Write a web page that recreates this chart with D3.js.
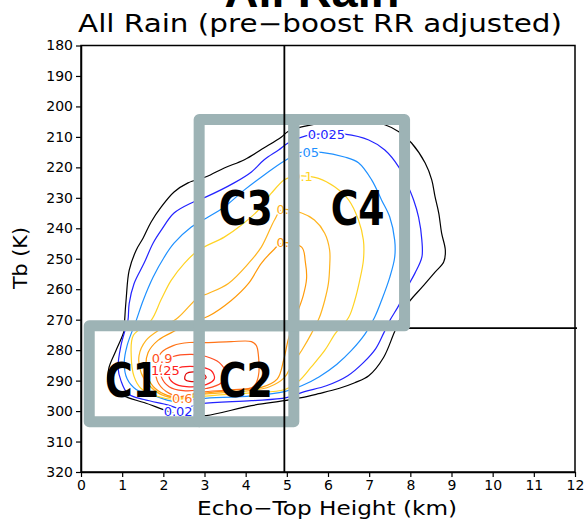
<!DOCTYPE html>
<html>
<head>
<meta charset="utf-8">
<script src="https://cdn.jsdelivr.net/npm/d3@7"></script>
<style>
  body { margin: 0; background: #fff; }
  svg { display: block; }
</style>
</head>
<body>
<svg width="585" height="522"></svg>
<script>
// axis ticks
var xTickValues = [0, 1, 2, 3, 4, 5, 6, 7, 8, 9, 10, 11, 12];
var yTickValues = [180, 190, 200, 210, 220, 230, 240, 250, 260, 270, 280, 290, 300, 310, 320];

// contour levels and one ring of [echo-top km, Tb K] per level
var levels = [0.01, 0.025, 0.05, 0.1, 0.2, 0.3, 0.6, 0.9, 1.25, 1.5];
var levelColors = ["#000000", "#2323ff", "#1e90ff", "#ffd324", "#ffb41e", "#ff9a0a", "#ff7419", "#ff4f23", "#ff2020", "#e00000"];

var ring001 = [[5.03,208.2],[5.36,206.7],[6.09,205.0],[6.82,204.7],[7.38,206.0],[7.72,208.3],[8.03,212.0],[8.36,218.6],[8.52,224.1],[8.60,229.6],[8.69,235.0],[8.76,241.6],[8.85,247.2],[8.81,251.1],[8.60,254.4],[8.28,259.4],[7.91,265.3],[7.62,273.9],[7.35,282.4],[6.99,288.4],[6.65,290.7],[6.26,292.6],[5.77,294.3],[5.36,295.6],[4.94,296.6],[4.14,298.2],[3.04,301.5],[2.50,301.8],[2.02,299.6],[1.53,297.2],[1.14,295.6],[0.80,293.3],[0.66,290.0],[0.68,285.7],[0.85,280.1],[1.05,273.5],[1.06,270.3],[1.10,262.7],[1.17,253.8],[1.34,247.2],[1.51,243.2],[1.70,238.0],[1.95,233.0],[2.26,228.1],[2.60,225.1],[3.04,223.1],[3.48,220.2],[3.97,217.5],[4.45,213.6],[4.87,210.0]];
var ring0025 = [[5.03,212.0],[5.48,209.6],[5.96,209.0],[6.40,209.1],[6.99,211.0],[7.38,214.3],[7.72,219.9],[7.91,225.1],[8.08,230.7],[8.20,236.3],[8.28,243.9],[8.28,249.5],[8.11,254.8],[7.91,259.7],[7.72,265.3],[7.50,270.3],[7.35,274.5],[7.16,279.5],[6.86,284.1],[6.48,288.4],[5.96,291.7],[5.43,293.6],[4.99,295.6],[4.14,296.6],[2.92,297.6],[2.43,299.3],[2.12,298.0],[1.53,296.2],[1.14,294.3],[0.97,290.0],[0.90,285.7],[0.97,278.5],[1.07,273.5],[1.14,270.3],[1.17,264.7],[1.29,258.1],[1.53,251.5],[1.75,244.9],[1.95,240.6],[2.26,235.0],[2.68,231.7],[3.04,229.7],[3.72,225.1],[4.14,221.5],[4.45,217.5],[4.80,214.3]];
var ring005 = [[5.06,216.9],[5.28,215.2],[5.84,215.1],[6.40,216.6],[6.74,218.5],[7.06,224.1],[7.30,230.7],[7.50,236.3],[7.62,243.9],[7.62,249.5],[7.50,256.1],[7.30,263.7],[7.13,269.3],[6.91,274.5],[6.57,280.1],[6.21,284.7],[5.79,288.7],[5.36,291.7],[4.94,293.6],[4.14,295.0],[2.92,295.9],[2.24,296.8],[1.83,295.2],[1.34,292.9],[1.12,289.4],[1.05,284.1],[1.12,278.5],[1.34,270.3],[1.51,263.7],[1.75,256.1],[2.02,249.5],[2.26,244.9],[2.68,239.6],[3.04,236.7],[3.48,233.0],[3.97,227.4],[4.45,222.5],[4.87,218.5]];
var ring01 = [[5.11,223.2],[5.36,222.8],[5.77,223.6],[6.16,226.4],[6.50,230.7],[6.74,237.3],[6.86,243.9],[6.86,250.5],[6.77,257.1],[6.65,263.7],[6.50,269.3],[6.18,274.5],[5.92,280.1],[5.60,285.4],[5.28,290.3],[4.94,293.0],[4.14,294.0],[2.92,295.2],[2.26,296.2],[1.87,295.2],[1.46,292.6],[1.29,288.7],[1.22,281.8],[1.27,275.2],[1.70,270.3],[1.95,263.3],[2.19,257.1],[2.51,251.5],[2.85,247.2],[3.48,242.9],[3.89,239.0],[4.31,234.0],[4.63,228.4],[4.94,224.1]];
var ring02 = [[4.87,234.0],[5.36,235.0],[5.67,237.3],[5.92,241.6],[6.04,247.2],[6.04,252.8],[6.01,258.1],[5.92,263.7],[5.79,269.3],[5.60,274.5],[5.36,280.1],[5.11,285.1],[4.94,289.0],[4.58,292.0],[4.14,293.2],[3.04,294.4],[2.39,295.8],[1.95,294.6],[1.66,291.6],[1.46,287.4],[1.41,281.8],[1.58,276.8],[1.95,272.9],[2.36,269.3],[2.85,262.7],[3.09,261.4],[3.58,258.1],[4.07,251.5],[4.38,246.2],[4.70,237.3]];
var ring03 = [[4.87,244.9],[5.36,246.2],[5.45,251.1],[5.48,256.4],[5.40,262.0],[5.23,268.6],[5.04,276.2],[4.92,283.4],[4.77,289.4],[4.38,292.2],[3.65,293.2],[2.92,294.2],[2.31,295.5],[1.95,294.0],[1.70,291.0],[1.58,286.1],[1.63,280.8],[1.87,276.8],[2.31,273.5],[2.80,270.3],[3.09,268.9],[3.65,263.7],[4.07,258.1],[4.38,251.5],[4.67,247.2]];
var ring06 = [[3.04,277.5],[3.65,277.2],[4.14,277.2],[4.26,278.5],[4.31,281.8],[4.31,288.4],[4.19,292.0],[3.65,293.0],[2.92,293.8],[2.39,295.2],[2.07,293.6],[1.85,290.0],[1.83,284.7],[1.95,280.8],[2.24,278.5],[2.63,277.5]];
var ring09 = [[2.24,282.1],[2.68,281.4],[3.04,282.1],[3.36,284.1],[3.51,287.4],[3.41,290.7],[3.04,292.6],[2.48,293.3],[2.14,292.0],[1.95,288.7],[1.95,284.7]];
var ring125 = [[2.31,286.1],[2.80,285.4],[3.16,286.7],[3.24,289.4],[3.04,291.3],[2.56,292.0],[2.24,290.7],[2.14,288.4]];
var ring15 = [[2.56,287.7],[2.92,287.4],[3.04,289.0],[2.80,290.3],[2.53,289.7]];
var rings = [ring001, ring0025, ring005, ring01, ring02, ring03, ring06, ring09, ring125, ring15];

// contour labels: text and where they sit (km, K)
var labelText = ["0.025", "0.05", "0.1", "0.2", "0.3", "0.9", "1.25", "0.6", "0.025"];
var labelLevel = [0.025, 0.05, 0.1, 0.2, 0.3, 0.9, 1.25, 0.6, 0.025];
var labelX = [5.96, 5.43, 5.38, 5.00, 5.00, 1.97, 2.05, 2.46, 2.46];
var labelY = [209.0, 215.2, 222.8, 233.9, 244.6, 282.6, 286.6, 295.9, 300.2];

// class boxes
var boxNames = ["C1", "C2", "C3", "C4"];
var boxX0 = [0.2, 2.87, 2.87, 5.17];
var boxX1 = [2.87, 5.17, 5.17, 7.86];
var boxY0 = [272, 272, 204.3, 204.3];
var boxY1 = [303.5, 303.5, 272, 272];
var boxLabelX = [1.24, 4.0, 4.0, 6.72];
var boxLabelY = [295.3, 295.3, 238.9, 238.9];

// dividing lines
var etSplit = 4.94;
var tbSplit = 272.8;

var svg = d3.select("svg");
var x = d3.scaleLinear().domain([0, 12]).range([81, 575]);
var y = d3.scaleLinear().domain([180, 320]).range([45.5, 472]);
var font = "DejaVu Sans, Liberation Sans, sans-serif";

// titles
svg.append("text")
    .attr("x", 312).attr("y", 7)
    .attr("text-anchor", "middle")
    .attr("font-family", "Liberation Sans, sans-serif")
    .attr("font-weight", "bold")
    .attr("font-size", 46)
    .attr("textLength", 175).attr("lengthAdjust", "spacingAndGlyphs")
    .text("All Rain");

svg.append("text")
    .attr("x", 320).attr("y", 32)
    .attr("text-anchor", "middle")
    .attr("font-family", font)
    .attr("font-size", 24)
    .attr("textLength", 484).attr("lengthAdjust", "spacingAndGlyphs")
    .text("All Rain (pre\u2212boost RR adjusted)");

// contours
var line = d3.line()
    .x(function (d) { return x(d[0]); })
    .y(function (d) { return y(d[1]); })
    .curve(d3.curveCatmullRomClosed.alpha(0.5));

var contours = rings.map(function (r, i) {
    return { level: levels[i], color: levelColors[i], pts: r };
});

svg.append("g").selectAll("path")
    .data(contours)
    .enter().append("path")
    .attr("d", function (d) { return line(d.pts); })
    .attr("fill", "none")
    .attr("stroke", function (d) { return d.color; })
    .attr("stroke-width", 1.2);

// contour labels with a white halo to break the line
svg.append("g").selectAll("text")
    .data(labelText)
    .enter().append("text")
    .attr("x", function (d, i) { return x(labelX[i]); })
    .attr("y", function (d, i) { return y(labelY[i]); })
    .attr("dy", "0.36em")
    .attr("text-anchor", "middle")
    .attr("font-family", font)
    .attr("font-size", 13)
    .attr("fill", function (d, i) { return levelColors[levels.indexOf(labelLevel[i])]; })
    .attr("stroke", "#fff").attr("stroke-width", 3)
    .attr("paint-order", "stroke")
    .text(function (d) { return d; });

// horizontal split line (sits under the boxes)
svg.append("line")
    .attr("x1", x(etSplit)).attr("x2", x(12) + 2)
    .attr("y1", y(tbSplit)).attr("y2", y(tbSplit))
    .attr("stroke", "#000").attr("stroke-width", 1.8);

// boxes
svg.append("g").selectAll("rect")
    .data(boxNames)
    .enter().append("rect")
    .attr("x", function (d, i) { return x(boxX0[i]); })
    .attr("y", function (d, i) { return y(boxY0[i]); })
    .attr("width", function (d, i) { return x(boxX1[i]) - x(boxX0[i]); })
    .attr("height", function (d, i) { return y(boxY1[i]) - y(boxY0[i]); })
    .attr("fill", "none")
    .attr("stroke", "#9db3b5")
    .attr("stroke-width", 11)
    .attr("stroke-linejoin", "round");

svg.append("g").selectAll("text")
    .data(boxNames)
    .enter().append("text")
    .attr("x", function (d, i) { return x(boxLabelX[i]); })
    .attr("y", function (d, i) { return y(boxLabelY[i]); })
    .attr("text-anchor", "middle")
    .attr("font-family", font)
    .attr("font-weight", "bold")
    .attr("font-size", 48)
    .attr("textLength", 54).attr("lengthAdjust", "spacingAndGlyphs")
    .text(function (d) { return d; });

// vertical split line
svg.append("line")
    .attr("x1", x(etSplit)).attr("x2", x(etSplit))
    .attr("y1", y(180)).attr("y2", y(320))
    .attr("stroke", "#000").attr("stroke-width", 1.8);

// frame and axes
svg.append("rect")
    .attr("x", x(0)).attr("y", y(180))
    .attr("width", x(12) - x(0)).attr("height", y(320) - y(180))
    .attr("fill", "none").attr("stroke", "#000").attr("stroke-width", 1.5);

var xaxis = svg.append("g")
    .attr("transform", "translate(0," + y(320) + ")")
    .call(d3.axisBottom(x).tickValues(xTickValues).tickSize(5).tickSizeOuter(0).tickPadding(3).tickFormat(d3.format("d")));

var yaxis = svg.append("g")
    .attr("transform", "translate(" + x(0) + ",0)")
    .call(d3.axisLeft(y).tickValues(yTickValues).tickSize(5).tickSizeOuter(0).tickPadding(3).tickFormat(d3.format("d")));

[xaxis, yaxis].forEach(function (a) {
    a.select(".domain").attr("stroke-width", 1.5);
    a.selectAll("line").attr("stroke-width", 1.2);
    a.selectAll("text").attr("font-family", font).attr("font-size", 14).attr("fill", "#000");
});

svg.append("text")
    .attr("x", 327).attr("y", 515)
    .attr("text-anchor", "middle")
    .attr("font-family", font)
    .attr("font-size", 20)
    .attr("textLength", 260).attr("lengthAdjust", "spacingAndGlyphs")
    .text("Echo\u2212Top Height (km)");

svg.append("text")
    .attr("transform", "translate(27,258) rotate(-90)")
    .attr("text-anchor", "middle")
    .attr("font-family", font)
    .attr("font-size", 20)
    .attr("textLength", 62).attr("lengthAdjust", "spacingAndGlyphs")
    .text("Tb (K)");
</script>
</body>
</html>
